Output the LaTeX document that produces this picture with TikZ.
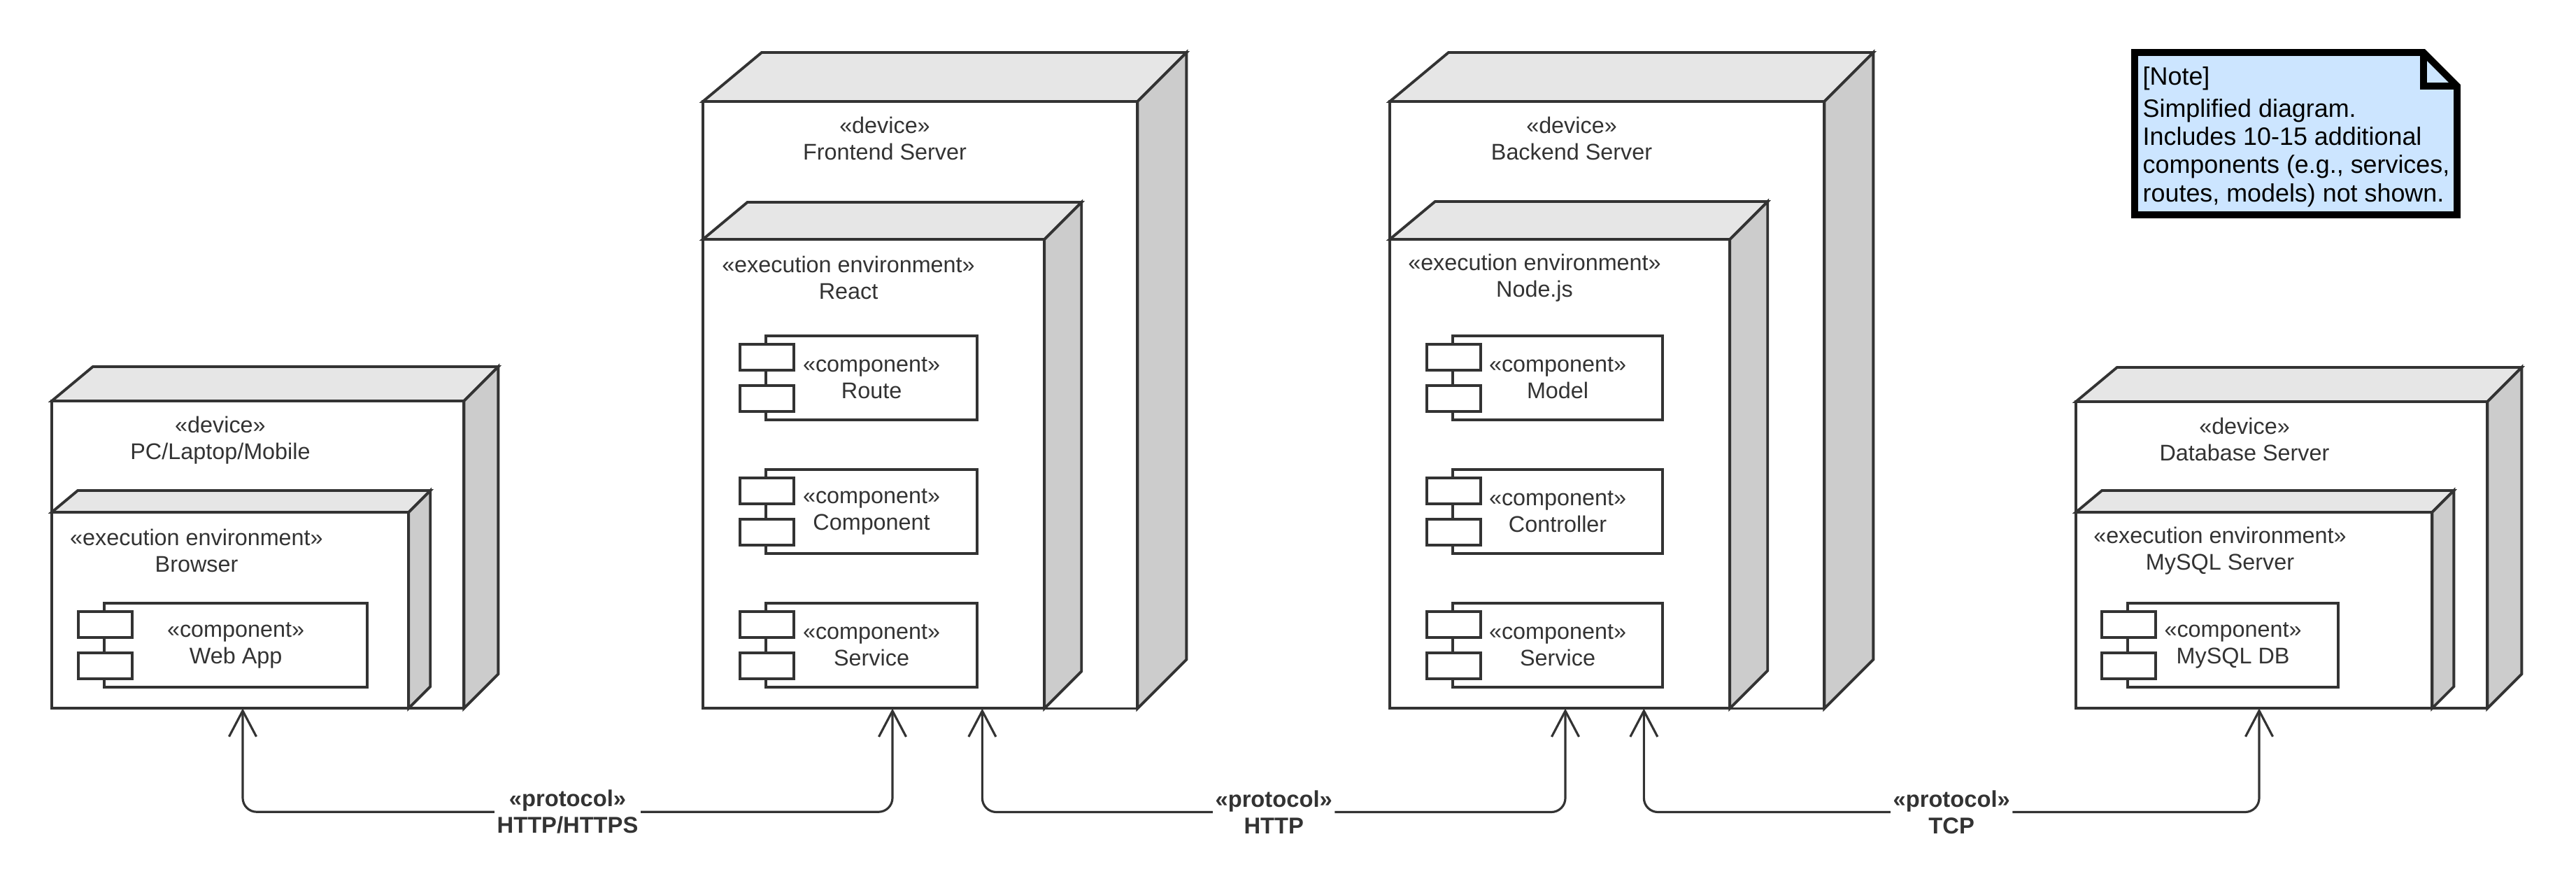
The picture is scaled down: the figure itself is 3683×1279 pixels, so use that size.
\documentclass[tikz,border=0pt]{standalone}
\usepackage{fontspec}
\setmainfont{Liberation Sans}
\usetikzlibrary{arrows.meta}

\definecolor{linegray}{HTML}{333333}
\definecolor{topgray}{HTML}{E6E6E6}
\definecolor{sidegray}{HTML}{CCCCCC}
\definecolor{noteblue}{HTML}{CCE5FF}

% top and side faces of a 3d box: node name, depth
\newcommand\boxfaces[2]{%
  \filldraw[face, fill=topgray] (#1.north west) -- ++({1.2*#2},{-#2})
    -- ([shift={(#2,-#2)}]#1.north east) -- (#1.north east) -- cycle;
  \filldraw[face, fill=sidegray] (#1.north east) -- ++(#2,-#2)
    -- ([shift={(#2,-#2)}]#1.south east) -- (#1.south east) -- cycle;
}
% component: name, north west corner, width, label
\newcommand\comp[4]{%
  \node[compbox, minimum width=#3] (#1) at (#2) {«component»\\#4};
  \draw[face, fill=white] ([shift={(-37,12)}]#1.north west) rectangle ([shift={(40,49)}]#1.north west);
  \draw[face, fill=white] ([shift={(-37,-49)}]#1.south west) rectangle ([shift={(40,-12)}]#1.south west);
}

\begin{document}
\begin{tikzpicture}[x=0.01cm,y=-0.01cm,
  face/.style={draw=linegray, line width=1.1pt, line join=miter},
  device/.style={face, fill=white, anchor=north west, inner sep=0, outer sep=0},
  compbox/.style={device, minimum height=1.2cm, align=center, text=linegray,
    font=\fontsize{9.2}{10.8}\selectfont},
  lbl/.style={align=center, text=linegray, inner sep=0, font=\fontsize{9.2}{10.8}\selectfont},
  link/.style={draw=linegray, line width=0.9pt, rounded corners=0.2cm,
    arrows={Straight Barb[length=3.7mm,width=3.9mm]-Straight Barb[length=3.7mm,width=3.9mm]}},
  proto/.style={fill=white, align=center, text=linegray, inner xsep=1pt, inner ysep=1pt,
    font=\bfseries\fontsize{9.3}{10.8}\selectfont}]
  \useasboundingbox (0,0) rectangle (3683,1279);

  % client
  \node[device, minimum width=5.89cm, minimum height=4.39cm] (pc) at (74,573) {};
  \boxfaces{pc}{49}
  \node[lbl] (pclbl) at (315,629) {«device»\\PC/Laptop/Mobile};
  \node[device, minimum width=5.10cm, minimum height=2.80cm] (browser) at (74,732) {};
  \boxfaces{browser}{31}
  \node[lbl] (browserlbl) at (281,787) {«execution environment»\\Browser};
  \comp{webapp}{149,862}{3.76cm}{Web App}

  % frontend
  \node[device, minimum width=6.21cm, minimum height=8.67cm] (fe) at (1005,145) {};
  \boxfaces{fe}{70}
  \node[lbl] (felbl) at (1265,198) {«device»\\Frontend Server};
  \node[device, minimum width=4.88cm, minimum height=6.70cm] (react) at (1005,342) {};
  \boxfaces{react}{53}
  \node[lbl] (reactlbl) at (1213,397) {«execution environment»\\React};
  \comp{feroute}{1095,480}{3.02cm}{Route}
  \comp{fecomp}{1095,671}{3.02cm}{Component}
  \comp{feserv}{1095,862}{3.02cm}{Service}

  % backend
  \node[device, minimum width=6.21cm, minimum height=8.67cm] (be) at (1987,145) {};
  \boxfaces{be}{70}
  \node[lbl] (belbl) at (2247,198) {«device»\\Backend Server};
  \node[device, minimum width=4.86cm, minimum height=6.70cm] (node) at (1987,342) {};
  \boxfaces{node}{54}
  \node[lbl] (nodelbl) at (2194,397) {«execution environment»\\Node.js};
  \comp{bemodel}{2077,480}{3.00cm}{Model}
  \comp{bectrl}{2077,671}{3.00cm}{Controller}
  \comp{beserv}{2077,862}{3.00cm}{Service}

  % database
  \node[device, minimum width=5.88cm, minimum height=4.38cm] (db) at (2968,574) {};
  \boxfaces{db}{49}
  \node[lbl] (dblbl) at (3209,628) {«device»\\Database Server};
  \node[device, minimum width=5.09cm, minimum height=2.80cm] (mysql) at (2968,732) {};
  \boxfaces{mysql}{31}
  \node[lbl] (mysqllbl) at (3174,787) {«execution environment»\\MySQL Server};
  \comp{mysqldb}{3042,862}{3.01cm}{MySQL DB}

  % protocols
  \draw[link] ([shift={(273,0)}]pc.south west) -- ++(0,148)
    -| node[proto, pos=0.25] (http1) {«protocol»\\HTTP/HTTPS} ([shift={(271,0)}]fe.south west);
  \draw[link] ([shift={(-222,0)}]fe.south east) -- ++(0,148)
    -| node[proto, pos=0.25] (http2) {«protocol»\\HTTP} ([shift={(251,0)}]be.south west);
  \draw[link] ([shift={(-258,0)}]be.south east) -- ++(0,148)
    -| node[proto, pos=0.25] (tcp) {«protocol»\\TCP} ([shift={(262,0)}]db.south west);

  % note
  \filldraw[line width=2.8pt, fill=noteblue, line join=miter] (3052,75) -- (3465,75) -- (3513,123)
    -- (3513,307) -- (3052,307) -- cycle;
  \draw[line width=2.8pt, line join=miter] (3465,75) -- (3465,123) -- (3513,123);
  \node[anchor=north west, align=left, inner sep=0, font=\fontsize{10.2}{11.4}\selectfont] (note)
    at (3063,95) {[Note]\\[0.06cm]Simplified diagram.\\Includes 10-15 additional\\components (e.g., services,\\routes, models) not shown.};
\end{tikzpicture}
\end{document}
